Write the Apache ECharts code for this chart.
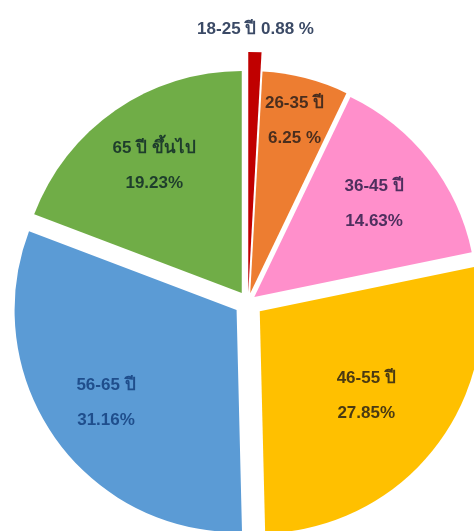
<!DOCTYPE html>
<html><head><meta charset="utf-8">
<script src="https://cdn.jsdelivr.net/npm/echarts@6/dist/echarts.min.js"></script>
<style>html,body{margin:0;padding:0;background:#fff}#c{width:474px;height:531px}</style>
</head><body><div id="c"></div>
<script>
// ---- data ----
const categories = ['18-25 ปี', '26-35 ปี', '36-45 ปี', '46-55 ปี', '56-65 ปี', '65 ปี ขึ้นไป'];
const values = [0.88, 6.25, 14.63, 27.85, 31.16, 19.23];
const pctSuffix = [' %', ' %', '%', '%', '%', '%'];
const labelSep = [' ', '\n', '\n', '\n', '\n', '\n'];

// ---- styles / layout ----
const colors = ['#C00000', '#ED7D31', '#FF8FCB', '#FFC000', '#5B9BD5', '#70AD47'];
const labelColors = ['#3B4A66', '#4A2E1E', '#4E2F5E', '#4A3A12', '#1F4E8C', '#1E3D2C'];
const explode = [10, 9, 8, 15, 14, 11];
const radii = [240, 222, 222, 222, 222, 222];
const labelDist = [263, 178, 152, 136, 160, 154];
const baseCenter = [248, 302];
const fontFamily = '"Liberation Sans", Arial, "Noto Sans", sans-serif';

const total = values.reduce((a, b) => a + b, 0);
let cum = 0;
const series = [];
values.forEach((v, i) => {
  const mid = (cum + v / 2) / total * 2 * Math.PI;
  cum += v;
  const dx = Math.sin(mid), dy = -Math.cos(mid);
  const center = [baseCenter[0] + explode[i] * dx, baseCenter[1] + explode[i] * dy];
  const data = categories.map((name, j) => ({
    name, value: values[j],
    itemStyle: { color: j === i ? colors[i] : 'rgba(0,0,0,0)' }
  }));
  series.push({
    type: 'pie', center, radius: [0, radii[i]], startAngle: 90, clockwise: true,
    silent: true, animation: false, padAngle: 0,
    itemStyle: { borderWidth: 0 },
    label: { show: false }, labelLine: { show: false }, data
  });
  const d = labelDist[i] - 3;
  const ldata = categories.map((name, j) => ({
    name, value: values[j],
    itemStyle: { color: 'rgba(0,0,0,0)' },
    label: { show: j === i }
  }));
  series.push({
    type: 'pie', center, radius: [Math.max(0, d - 20), d + 20], startAngle: 90, clockwise: true,
    silent: true, animation: false, padAngle: 0,
    itemStyle: { borderWidth: 0 },
    label: {
      show: true, position: 'inside',
      formatter: p => categories[p.dataIndex] + labelSep[p.dataIndex] + values[p.dataIndex].toFixed(2) + pctSuffix[p.dataIndex],
      color: labelColors[i], fontSize: 17, fontWeight: 'bold', lineHeight: 35, fontFamily
    },
    labelLine: { show: false }, data: ldata
  });
});

const chart = echarts.init(document.getElementById('c'), null, { renderer: 'canvas' });
chart.setOption({ backgroundColor: '#ffffff', animation: false, series });
</script>
</body></html>
